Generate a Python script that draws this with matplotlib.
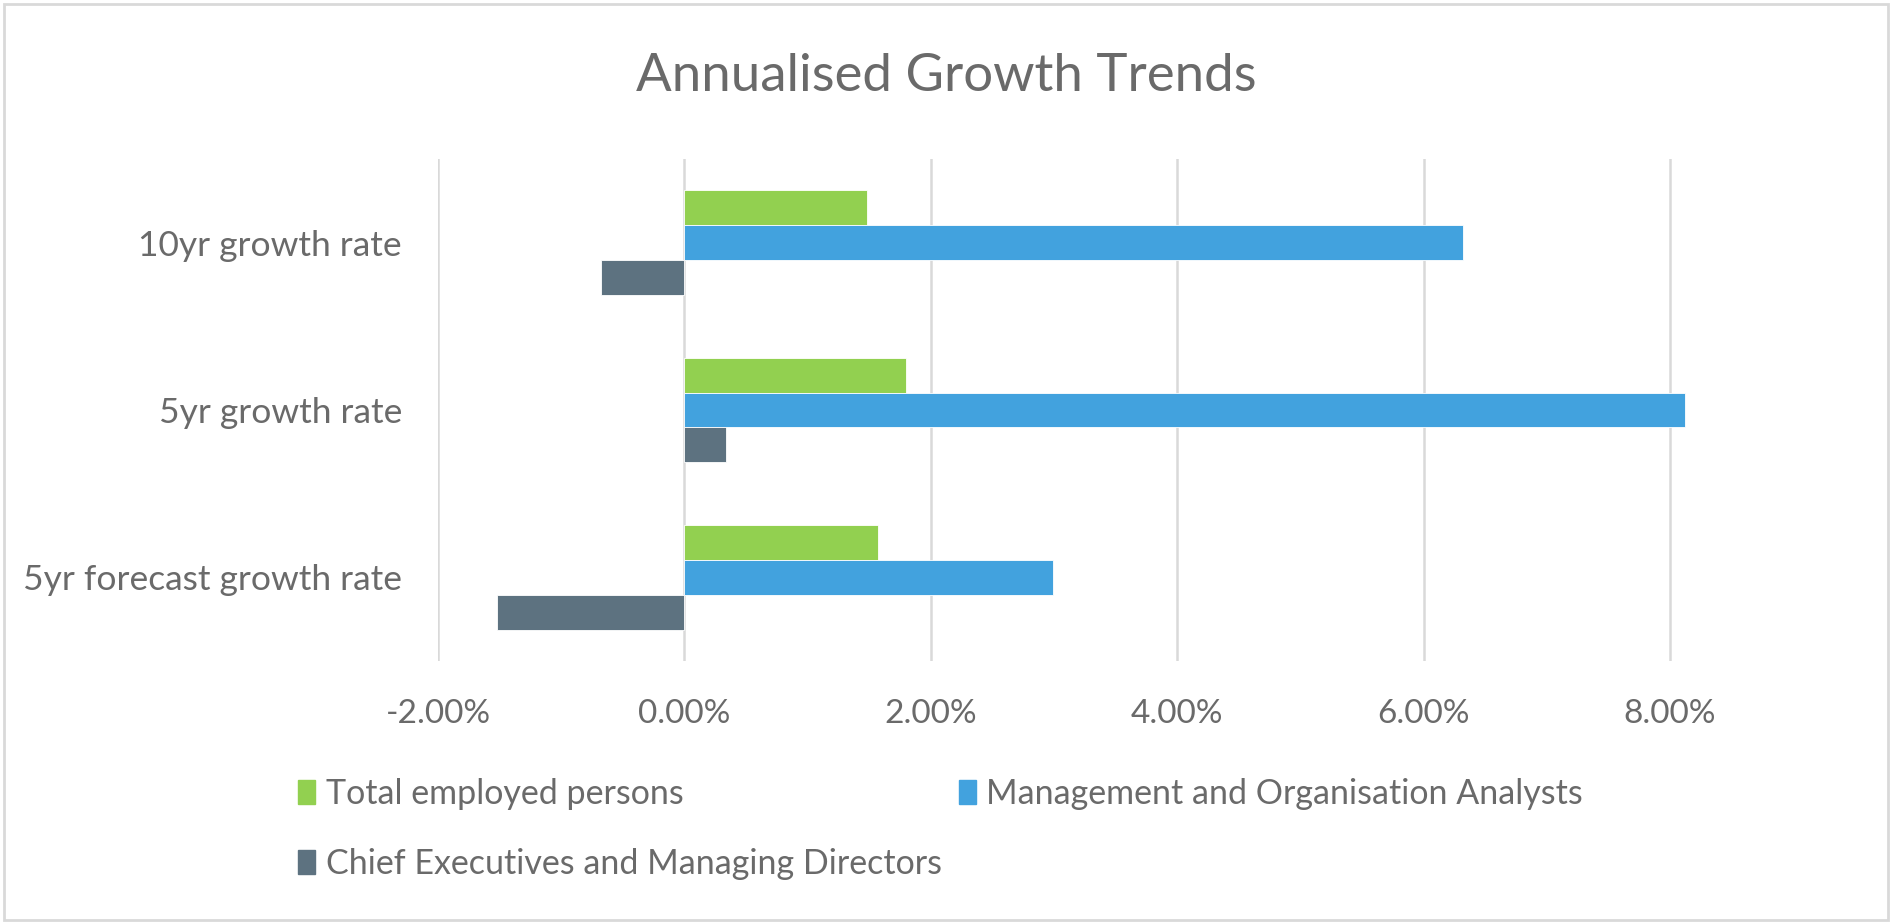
import matplotlib
matplotlib.use('Agg')
import matplotlib.pyplot as plt
from matplotlib.patches import Rectangle, Patch
from matplotlib.ticker import FuncFormatter

plt.rcParams['font.family'] = ['Lato', 'DejaVu Sans']

# data (annualised growth, %)
categories = ['10yr growth rate', '5yr growth rate', '5yr forecast growth rate']
total_employed = [1.48, 1.80, 1.57]
mgmt_analysts = [6.32, 8.12, 2.99]
chief_execs = [-0.68, 0.34, -1.52]

series_names = ['Total employed persons',
                'Management and Organisation Analysts',
                'Chief Executives and Managing Directors']
colors = ['#92d050', '#42a2de', '#5d7280']
text_col = '#6a6a6a'
grid_col = '#d9d9d9'

fig = plt.figure(figsize=(18.92, 9.24), dpi=100)
ax = fig.add_axes([0.2315, 0.2846, 0.9152 - 0.2315, 0.828 - 0.2846])

y = list(range(len(categories)))
h = 0.208
ax.barh([v - h for v in y], total_employed, height=h, color=colors[0],
        edgecolor='white', linewidth=0.6, zorder=3)
ax.barh(y, mgmt_analysts, height=h, color=colors[1],
        edgecolor='white', linewidth=0.6, zorder=3)
ax.barh([v + h for v in y], chief_execs, height=h, color=colors[2],
        edgecolor='white', linewidth=0.6, zorder=3)

ax.set_xlim(-2, 8.5)
ax.set_ylim(2.5, -0.5)
ax.set_xticks([-2, 0, 2, 4, 6, 8])
ax.xaxis.set_major_formatter(FuncFormatter(lambda v, p: f'{v:.2f}%'))
ax.set_yticks(y)
ax.set_yticklabels(categories)

ax.grid(axis='x', color=grid_col, linewidth=1.8, zorder=0)
for s in ax.spines.values():
    s.set_visible(False)
ax.tick_params(axis='both', length=0, labelcolor=text_col)
ax.tick_params(axis='x', pad=27, labelsize=24)
ax.tick_params(axis='y', pad=26, labelsize=25.5)

fig.text(0.5, 0.917, 'Annualised Growth Trends', ha='center', va='center',
         fontsize=38, color=text_col)

# legend: col 1 = green, dark ; col 2 = blue
handles = [Patch(color=colors[0]), Patch(color=colors[2]), Patch(color=colors[1])]
labels = [series_names[0], series_names[2], series_names[1]]
fig.legend(handles, labels, ncol=2, loc='center left',
           bbox_to_anchor=(0.1415, 0.103), frameon=False, fontsize=24.5,
           labelcolor=text_col, handlelength=0.5, handleheight=0.7,
           handletextpad=0.3, columnspacing=0.5, labelspacing=1.1)

fig.add_artist(Rectangle((0.002, 0.004), 0.996, 0.992, transform=fig.transFigure,
                         fill=False, edgecolor=grid_col, linewidth=2))

fig.savefig('out.png', dpi=100, facecolor='white')
